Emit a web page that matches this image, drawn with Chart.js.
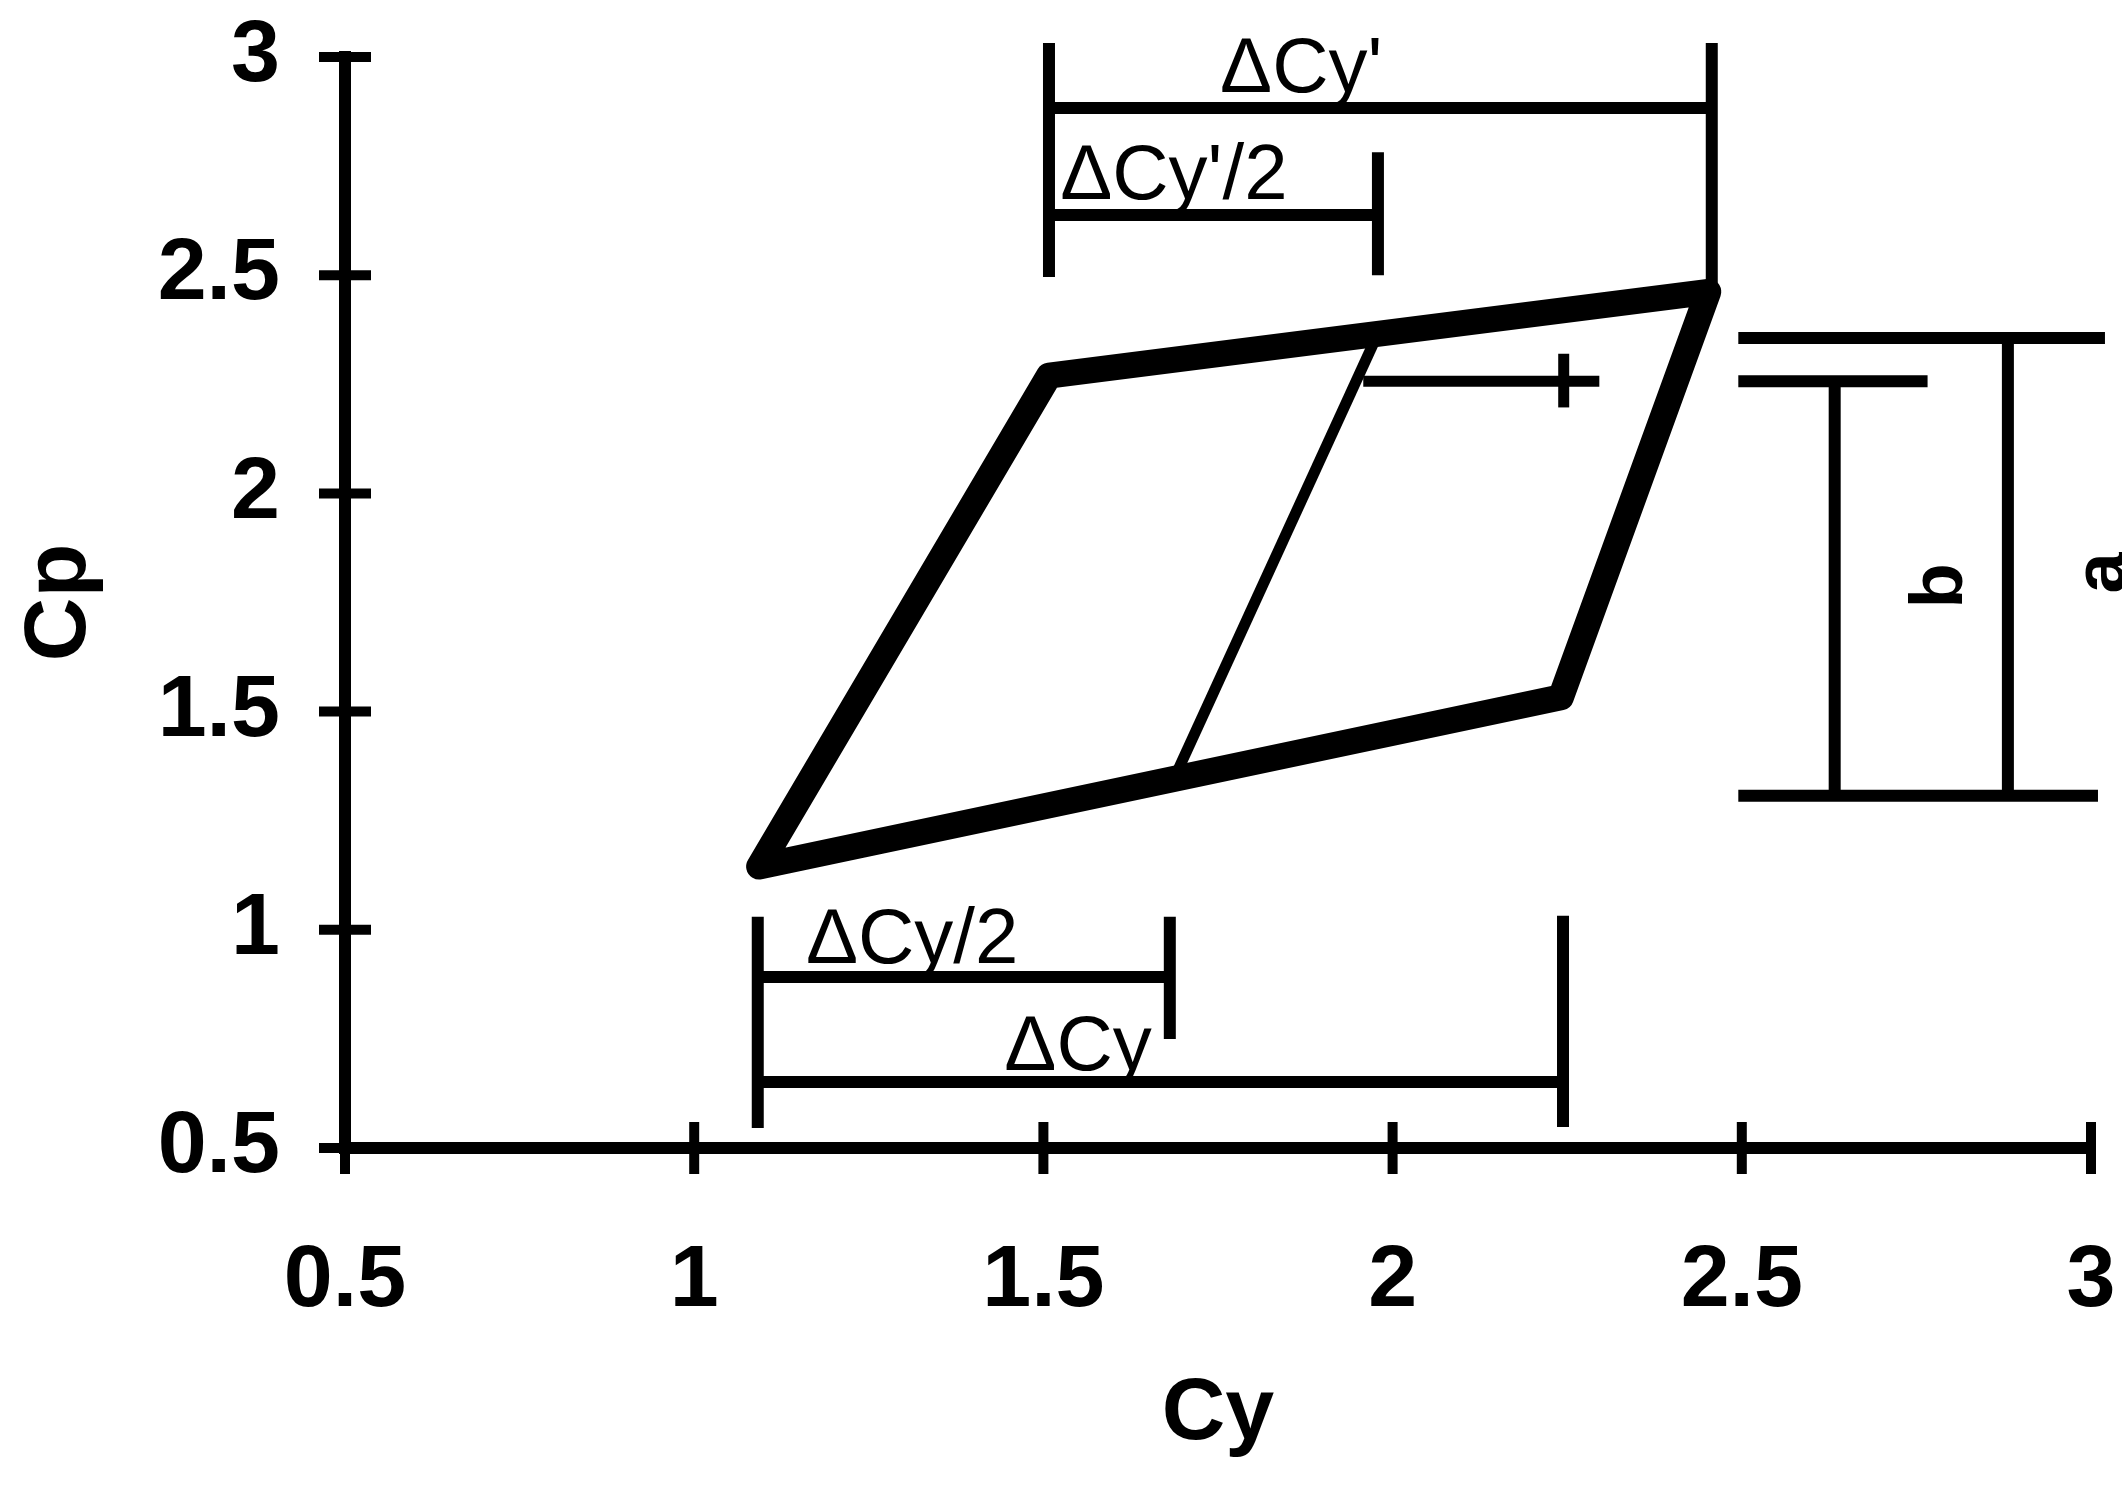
<!DOCTYPE html>
<html>
<head>
<meta charset="utf-8">
<script src="https://cdn.jsdelivr.net/npm/chart.js@4.4.1/dist/chart.umd.min.js"></script>
<style>
html,body{margin:0;padding:0;background:#fff;overflow:hidden}
canvas{display:block}
</style>
</head>
<body>
<canvas id="c" width="2122" height="1488" style="width:2122px;height:1488px"></canvas>
<script>
// ---- axis ticks ----
const cyTickLabels = ['0.5', '1', '1.5', '2', '2.5', '3'];
const cpTickLabels = ['0.5', '1', '1.5', '2', '2.5', '3'];

// ---- hysteresis loop (thick outline) ----
const loopCy = [1.093, 1.508, 2.452, 2.241, 1.093];
const loopCp = [1.145, 2.270, 2.462, 1.533, 1.145];

// ---- inner branch ----
const innerCy = [1.687, 1.980];
const innerCp = [1.346, 2.370];

// ---- marker line with cross ----
const markCy = [1.958, 2.296];
const markCp = [2.257, 2.257];
const markTickCy = [2.245, 2.245];
const markTickCp = [2.197, 2.320];

// ---- dimension segments: start (Cy, Cp) -> end (Cy, Cp) ----
const dimStartCy = [1.508, 2.457, 1.508, 1.979, 1.508, 1.091, 1.681, 1.091, 2.244, 1.091, 2.495, 2.495, 2.881, 2.495, 2.633];
const dimStartCp = [2.496, 2.462, 2.883, 2.500, 2.638, 0.546, 0.750, 0.892, 0.548, 0.651, 2.356, 1.307, 2.356, 2.257, 2.257];
const dimEndCy   = [1.508, 2.457, 2.457, 1.979, 1.979, 1.091, 1.681, 1.681, 2.244, 2.244, 3.020, 3.010, 2.881, 2.766, 2.633];
const dimEndCp   = [3.032, 3.032, 2.883, 2.782, 2.638, 1.030, 1.030, 0.892, 1.032, 0.651, 2.356, 1.307, 1.307, 2.257, 1.307];

// ---- annotation labels ----
const noteText = ["ΔCy'", "ΔCy'/2", "ΔCy/2", "ΔCy"];
const noteCy = [1.753, 1.524, 1.160, 1.444];
const noteCp = [2.920, 2.675, 0.924, 0.679];

const sideText = ['b', 'a'];
const sideCy = [2.815, 3.049];
const sideCp = [1.788, 1.818];

// ---- build datasets ----
const pts = (xs, ys) => xs.map((x, i) => ({x: x, y: ys[i]}));
const datasets = [];
datasets.push({data: pts(loopCy, loopCp), borderWidth: 26, borderCapStyle: 'round', borderJoinStyle: 'round'});
datasets.push({data: pts(innerCy, innerCp), borderWidth: 11});
datasets.push({data: pts(markCy, markCp), borderWidth: 11});
datasets.push({data: pts(markTickCy, markTickCp), borderWidth: 11});
for (let i = 0; i < dimStartCy.length; i++) {
  datasets.push({
    data: [{x: dimStartCy[i], y: dimStartCp[i]}, {x: dimEndCy[i], y: dimEndCp[i]}],
    borderWidth: 12
  });
}
datasets.forEach(d => {
  d.showLine = true;
  d.clip = false;
  d.borderColor = '#000';
  d.backgroundColor = '#000';
  d.pointRadius = 0;
  d.fill = false;
  if (!d.borderCapStyle) d.borderCapStyle = 'butt';
});

const crossTicks = {
  id: 'crossTicks',
  afterDraw(chart) {
    const {ctx, chartArea, scales} = chart;
    ctx.save();
    ctx.strokeStyle = '#000';
    ctx.lineWidth = 10;
    ctx.lineCap = 'butt';
    scales.x.ticks.forEach(t => {
      const px = scales.x.getPixelForValue(t.value);
      ctx.beginPath();
      ctx.moveTo(px, chartArea.bottom - 26);
      ctx.lineTo(px, chartArea.bottom + 26);
      ctx.stroke();
    });
    scales.y.ticks.forEach(t => {
      const py = scales.y.getPixelForValue(t.value);
      ctx.beginPath();
      ctx.moveTo(chartArea.left - 26, py);
      ctx.lineTo(chartArea.left + 26, py);
      ctx.stroke();
    });
    ctx.restore();
  }
};

const notes = {
  id: 'notes',
  afterDraw(chart) {
    const {ctx, scales} = chart;
    ctx.save();
    ctx.fillStyle = '#000';
    ctx.font = '78px "Liberation Sans", Arial, sans-serif';
    ctx.textAlign = 'left';
    ctx.textBaseline = 'alphabetic';
    noteText.forEach((t, i) => {
      ctx.fillText(t, scales.x.getPixelForValue(noteCy[i]), scales.y.getPixelForValue(noteCp[i]));
    });
    ctx.font = 'bold 74px "Liberation Sans", Arial, sans-serif';
    ctx.textAlign = 'center';
    sideText.forEach((t, i) => {
      ctx.save();
      ctx.translate(scales.x.getPixelForValue(sideCy[i]), scales.y.getPixelForValue(sideCp[i]));
      ctx.rotate(-Math.PI / 2);
      ctx.fillText(t, 0, 0);
      ctx.restore();
    });
    ctx.restore();
  }
};

const tickFont = {family: '"Liberation Sans", Arial, sans-serif', size: 88, weight: 'bold'};
const noPad = s => { s.paddingTop = 0; s.paddingBottom = 0; s.paddingLeft = 0; s.paddingRight = 0; };

new Chart(document.getElementById('c'), {
  type: 'scatter',
  data: {datasets: datasets},
  options: {
    responsive: false,
    animation: false,
    devicePixelRatio: 1,
    layout: {padding: {top: 57, right: 31, left: 0, bottom: 0}},
    plugins: {legend: {display: false}, tooltip: {enabled: false}},
    elements: {line: {tension: 0}, point: {radius: 0}},
    scales: {
      x: {
        type: 'linear', min: 0.5, max: 3,
        afterFit: s => { s.height = 340; noPad(s); },
        grid: {display: false},
        border: {display: true, color: '#000', width: 12},
        ticks: {
          stepSize: 0.5, autoSkip: false, maxRotation: 0, minRotation: 0,
          padding: 73, color: '#000', font: tickFont,
          callback: (v, i) => cyTickLabels[i]
        },
        title: {display: true, text: 'Cy', color: '#000', font: tickFont, padding: {top: 0, bottom: 20}}
      },
      y: {
        type: 'linear', min: 0.5, max: 3,
        afterFit: s => { s.width = 345; noPad(s); },
        grid: {display: false},
        border: {display: true, color: '#000', width: 12},
        ticks: {
          stepSize: 0.5, autoSkip: false,
          padding: 57, color: '#000', font: tickFont,
          callback: (v, i) => cpTickLabels[i]
        },
        title: {display: true, text: 'Cp', color: '#000', font: tickFont, padding: {top: 8, bottom: 0}}
      }
    }
  },
  plugins: [crossTicks, notes]
});
</script>
</body>
</html>
